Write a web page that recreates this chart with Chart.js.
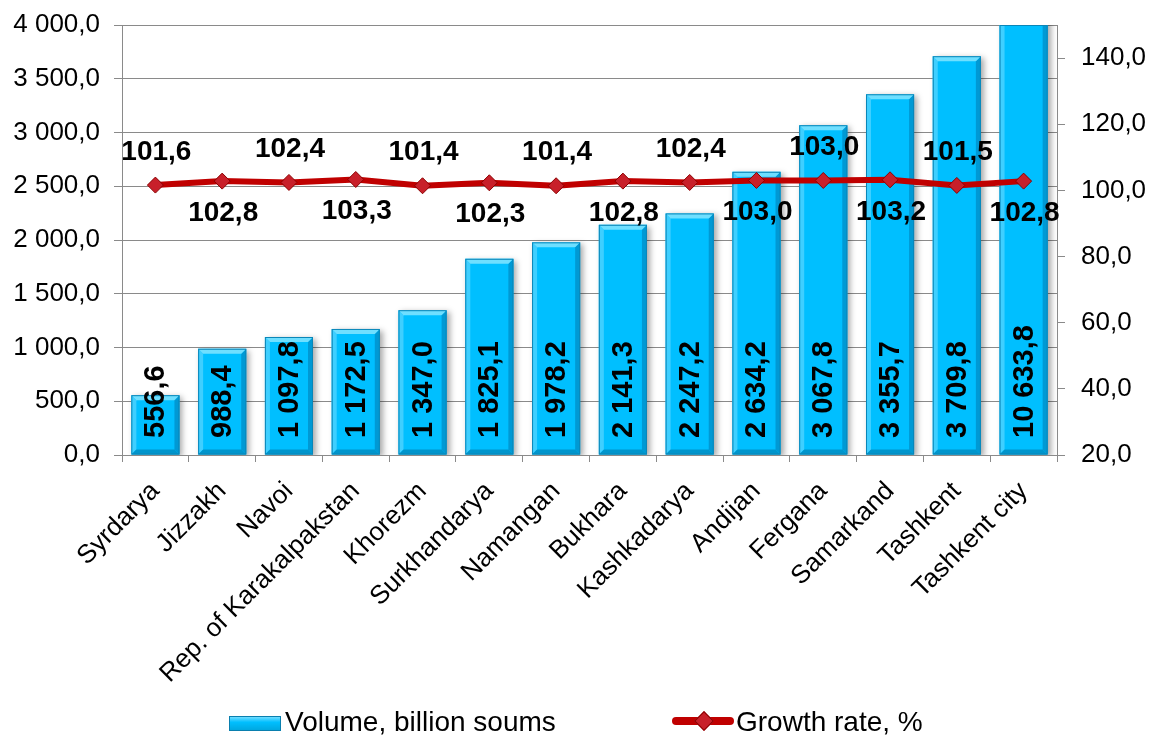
<!DOCTYPE html>
<html>
<head>
<meta charset="utf-8">
<script src="https://cdn.jsdelivr.net/npm/chart.js@4/dist/chart.umd.min.js"></script>
<style>
  html, body { margin: 0; padding: 0; background: #fff; }
  #wrap { position: relative; width: 1149px; height: 736px; font-family: "Liberation Sans", Arial, sans-serif; }
  #chart { position: absolute; left: 0; top: 0; }
  .leg { position: absolute; top: 706px; font-size: 28px; color: #000; line-height: 32px; white-space: nowrap; }
  .leg-bar { position: absolute; left: 229px; top: 716px; width: 52px; height: 15px;
             background: linear-gradient(#6fdcff, #00bfff 40%, #00a8e0); border: 1px solid #0a7fae; box-sizing: border-box; }
  .leg-line { position: absolute; left: 672px; top: 717px; width: 62px; height: 8px; background: #c00000; border-radius: 4px; }
  .leg-dot { position: absolute; left: 697px; top: 714px; width: 12px; height: 12px; background: #c8202a;
             border: 1px solid #8b0000; transform: rotate(45deg); }
</style>
</head>
<body>
<div id="wrap">
  <canvas id="chart" width="1149" height="736"></canvas>
  <div class="leg-bar"></div>
  <div class="leg" style="left:285px">Volume, billion soums</div>
  <div class="leg-line"></div>
  <div class="leg-dot"></div>
  <div class="leg" style="left:736px">Growth rate, %</div>
</div>
<script>
"use strict";

// data
var regions = ['Syrdarya', 'Jizzakh', 'Navoi', 'Rep. of Karakalpakstan', 'Khorezm', 'Surkhandarya',
    'Namangan', 'Bukhara', 'Kashkadarya', 'Andijan', 'Fergana', 'Samarkand', 'Tashkent', 'Tashkent city'];
var volume = [556.6, 988.4, 1097.8, 1172.5, 1347.0, 1825.1, 1978.2, 2141.3, 2247.2, 2634.2, 3067.8, 3355.7, 3709.8, 10633.8];
var growth = [101.6, 102.8, 102.4, 103.3, 101.4, 102.3, 101.4, 102.8, 102.4, 103.0, 103.0, 103.2, 101.5, 102.8];
var volumeTicks = [0, 500, 1000, 1500, 2000, 2500, 3000, 3500, 4000];
var rateTicks = [20, 40, 60, 80, 100, 120, 140];

function fmt(v) {
    var parts = v.toFixed(1).split('.');
    return parts[0].replace(/\B(?=(\d{3})+(?!\d))/g, ' ') + ',' + parts[1];
}

var FONT = '"Liberation Sans", Arial, sans-serif';
var GRID = '#8a8a8a';

// bevel + shadow for the bars, like the office 3D bar style
var bevelPlugin = {
    id: 'bevel',
    beforeDatasetDraw: function (chart, args) {
        if (args.meta.type !== 'bar') return;
        var ctx = chart.ctx;
        ctx.save();
        ctx.shadowColor = 'rgba(0,0,0,0.35)';
        ctx.shadowBlur = 6;
        ctx.shadowOffsetX = 3;
        ctx.shadowOffsetY = 2;
    },
    afterDatasetDraw: function (chart, args) {
        if (args.meta.type !== 'bar') return;
        var ctx = chart.ctx;
        ctx.restore();
        var area = chart.chartArea;
        ctx.save();
        ctx.beginPath();
        ctx.rect(area.left, area.top, area.right - area.left, area.bottom - area.top);
        ctx.clip();
        args.meta.data.forEach(function (bar) {
            var l = bar.x - bar.width / 2, r = bar.x + bar.width / 2;
            var clipped = bar.y < area.top;
            var t = Math.max(bar.y, area.top), b = bar.base, e = 5;
            function poly(pts, col) {
                ctx.beginPath();
                ctx.moveTo(pts[0][0], pts[0][1]);
                for (var i = 1; i < pts.length; i++) ctx.lineTo(pts[i][0], pts[i][1]);
                ctx.closePath();
                ctx.fillStyle = col;
                ctx.fill();
            }
            poly([[l, t], [l + e, clipped ? t : t + e], [l + e, b - e], [l, b]], '#3fcfff');
            poly([[r, t], [r - e, clipped ? t : t + e], [r - e, b - e], [r, b]], '#0099d4');
            poly([[l, b], [l + e, b - e], [r - e, b - e], [r, b]], '#0095cc');
            if (!clipped) poly([[l, t], [r, t], [r - e, t + e], [l + e, t + e]], '#6fdfff');
            ctx.strokeStyle = '#0a86b8';
            ctx.lineWidth = 1;
            ctx.strokeRect(l + 0.5, t + 0.5, r - l - 1, b - t - 1);
        });
        ctx.restore();
    }
};

// value labels: vertical in the bars, alternating above/below on the line
var labelPlugin = {
    id: 'valueLabels',
    afterDatasetsDraw: function (chart) {
        var ctx = chart.ctx;
        var bars = chart.getDatasetMeta(1).data;
        var pts = chart.getDatasetMeta(0).data;
        ctx.save();
        ctx.fillStyle = '#000';
        ctx.font = 'bold 29px ' + FONT;
        ctx.textAlign = 'left';
        ctx.textBaseline = 'middle';
        bars.forEach(function (bar, i) {
            ctx.save();
            ctx.translate(bar.x + 1, chart.chartArea.bottom - 17);
            ctx.rotate(-Math.PI / 2);
            ctx.fillText(fmt(volume[i]), 0, 0);
            ctx.restore();
        });
        ctx.font = 'bold 28px ' + FONT;
        ctx.textAlign = 'center';
        pts.forEach(function (p, i) {
            var dy = (i % 2 === 0) ? -33 : 32;
            ctx.fillText(fmt(growth[i]), p.x + 1, p.y + dy);
        });
        ctx.restore();
    }
};

new Chart(document.getElementById('chart'), {
    data: {
        labels: regions,
        datasets: [
            {
                type: 'line',
                label: 'Growth rate, %',
                data: growth,
                yAxisID: 'y2',
                order: 0,
                borderColor: '#c00000',
                borderWidth: 6,
                tension: 0,
                pointStyle: 'rectRot',
                pointRadius: 8,
                pointBackgroundColor: '#c8202a',
                pointBorderColor: '#8b0000',
                pointBorderWidth: 1
            },
            {
                type: 'bar',
                label: 'Volume, billion soums',
                data: volume,
                yAxisID: 'y',
                order: 1,
                backgroundColor: '#00bfff',
                barPercentage: 0.72,
                categoryPercentage: 1
            }
        ]
    },
    options: {
        responsive: false,
        animation: false,
        layout: { padding: { top: 25, left: 0, right: 0, bottom: 0 } },
        plugins: { legend: { display: false }, tooltip: { enabled: false } },
        scales: {
            x: {
                grid: { offset: true, drawOnChartArea: false, color: GRID, tickLength: 7 },
                border: { color: GRID },
                ticks: { color: '#000', font: { family: FONT, size: 26 }, minRotation: 45, maxRotation: 45, autoSkip: false, padding: 14 },
                afterFit: function (s) { s.height = 281; }
            },
            y: {
                position: 'left',
                min: 0,
                max: 4000,
                afterBuildTicks: function (s) { s.ticks = volumeTicks.map(function (v) { return { value: v }; }); },
                grid: { color: GRID, tickLength: 8 },
                border: { color: GRID },
                ticks: { color: '#000', font: { family: FONT, size: 26 }, padding: 14, callback: function (v) { return fmt(v); } },
                afterFit: function (s) { s.width = 122; s.paddingTop = 0; s.paddingBottom = 0; }
            },
            y2: {
                position: 'right',
                min: 20,
                max: 150,
                afterBuildTicks: function (s) { s.ticks = rateTicks.map(function (v) { return { value: v }; }); },
                grid: { drawOnChartArea: false, color: GRID, tickLength: 8 },
                border: { color: GRID },
                ticks: { color: '#000', font: { family: FONT, size: 26 }, padding: 16, callback: function (v) { return fmt(v); } },
                afterFit: function (s) { s.width = 92; s.paddingTop = 0; s.paddingBottom = 0; }
            }
        }
    },
    plugins: [bevelPlugin, labelPlugin]
});
</script>
</body>
</html>
